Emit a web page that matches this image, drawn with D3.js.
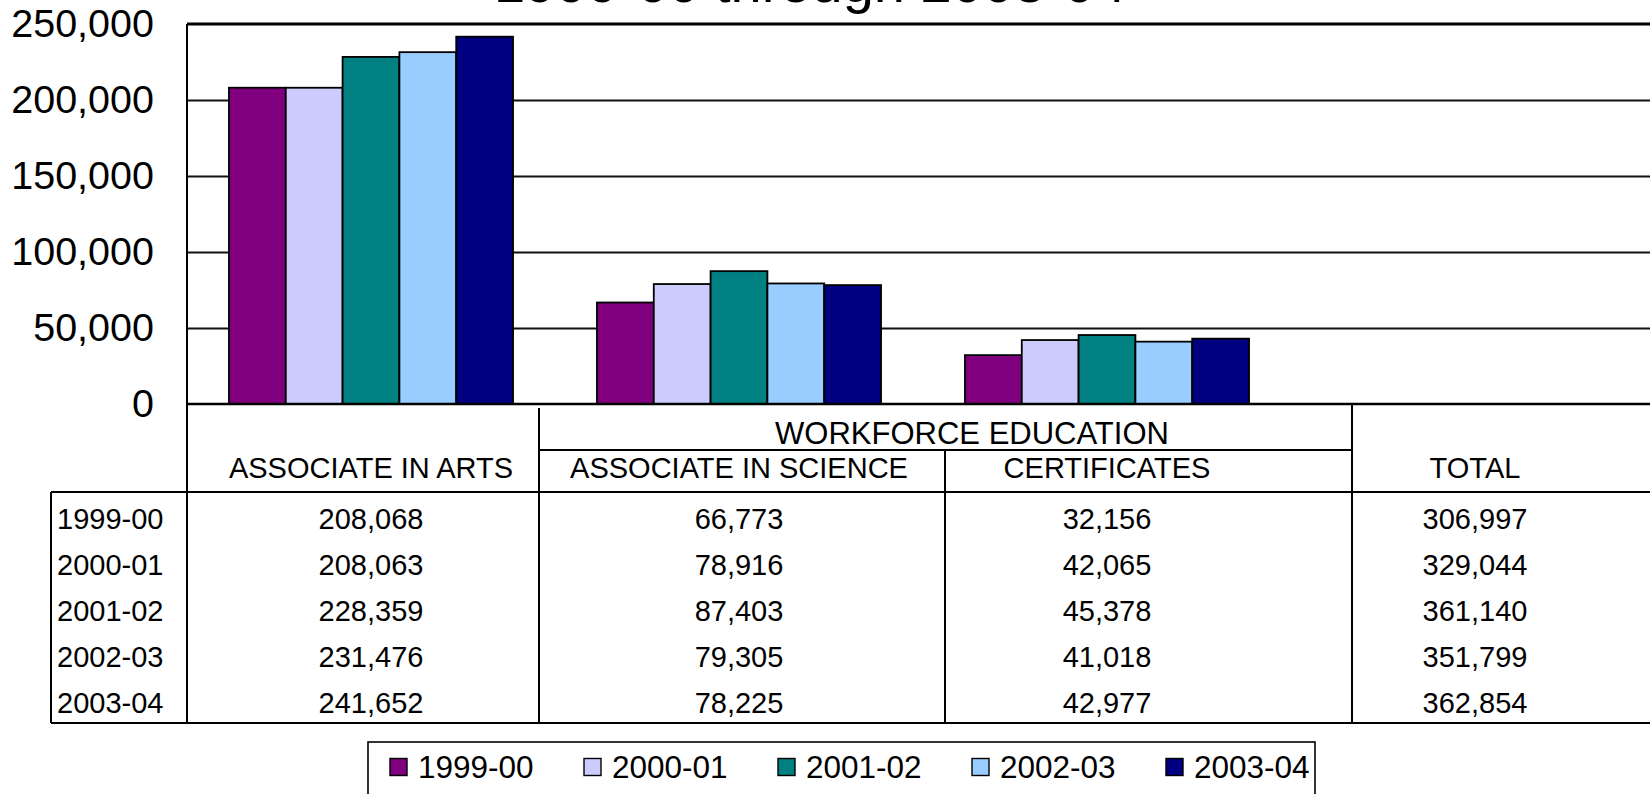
<!DOCTYPE html>
<html>
<head>
<meta charset="utf-8">
<script src="https://cdnjs.cloudflare.com/ajax/libs/d3/7.8.5/d3.min.js"></script>
<style>
  html, body { margin: 0; padding: 0; background: #fff; overflow: hidden; }
  svg { display: block; font-family: "Liberation Sans", Arial, sans-serif; }
</style>
</head>
<body>
<div id="viz"></div>
<script>
// chart data
const categories = ['ASSOCIATE IN ARTS', 'ASSOCIATE IN SCIENCE', 'CERTIFICATES', 'TOTAL'];
const years = ['1999-00', '2000-01', '2001-02', '2002-03', '2003-04'];
const artsValues = [208068, 208063, 228359, 231476, 241652];
const scienceValues = [66773, 78916, 87403, 79305, 78225];
const certificateValues = [32156, 42065, 45378, 41018, 42977];
const totalValues = [306997, 329044, 361140, 351799, 362854];
const yTicks = [0, 50000, 100000, 150000, 200000, 250000];
const colors = ['#800080', '#CCCCFF', '#008080', '#99CCFF', '#000080'];
const titleText = '1999-00 through 2003-04';
const groupLabel = 'WORKFORCE EDUCATION';

// only the three program columns are drawn as bars, total lives in the table
const plotted = [artsValues, scienceValues, certificateValues];
const tableColumns = [artsValues, scienceValues, certificateValues, totalValues];

let width = 1650, height = 794;
let margin = { top: 24, left: 187 };
let plotBottom = 404;
let plotRight = 1659;
let tableBottom = 723;

let svg = d3.select('#viz')
    .append('svg')
    .attr('width', width)
    .attr('height', height);

let xScale = d3.scaleBand()
    .domain(categories)
    .range([margin.left, plotRight])
    .paddingInner(0.228)
    .paddingOuter(0.114);

let xInner = d3.scaleBand()
    .domain(years)
    .range([0, xScale.bandwidth()]);

let yScale = d3.scaleLinear()
    .domain([0, 250000])
    .range([plotBottom, margin.top]);

let color = d3.scaleOrdinal().domain(years).range(colors);

let center = (c) => xScale(c) + xScale.bandwidth() / 2;

// title, cropped at the top edge as in the source
svg.append('text')
    .attr('x', 810)
    .attr('y', 2)
    .attr('text-anchor', 'middle')
    .style('font-size', '56px')
    .text(titleText);

// gridlines
let grid = svg.append('g')
    .attr('transform', 'translate(' + margin.left + ',0)')
    .call(d3.axisLeft(yScale).tickValues(yTicks.slice(1, -1)).tickSize(-(plotRight - margin.left)).tickFormat(''));
grid.select('.domain').remove();
grid.selectAll('line').attr('stroke', '#111').attr('stroke-width', 1.8);

// y axis labels
let yGuide = svg.append('g')
    .attr('transform', 'translate(154,0)')
    .call(d3.axisLeft(yScale).tickValues(yTicks).tickSize(0).tickPadding(0).tickFormat(d3.format(',')));
yGuide.select('.domain').remove();
yGuide.selectAll('text')
    .style('font-size', '39.5px')
    .style('font-family', '"Liberation Sans", Arial, sans-serif')
    .attr('fill', '#000');

// bars
plotted.forEach((vals, ci) => {
    svg.append('g')
        .attr('transform', 'translate(' + xScale(categories[ci]) + ',0)')
        .selectAll('rect')
        .data(vals)
        .enter()
        .append('rect')
        .attr('x', (d, i) => xInner(years[i]))
        .attr('y', (d) => yScale(d))
        .attr('width', xInner.bandwidth())
        .attr('height', (d) => plotBottom - yScale(d))
        .attr('fill', (d, i) => color(years[i]))
        .attr('stroke', '#000')
        .attr('stroke-width', 1.8);
});

// plot frame: top, left, zero line
svg.append('line')
    .attr('x1', margin.left).attr('x2', width)
    .attr('y1', margin.top).attr('y2', margin.top)
    .attr('stroke', '#000').attr('stroke-width', 3);
svg.append('line')
    .attr('x1', margin.left).attr('x2', width)
    .attr('y1', plotBottom).attr('y2', plotBottom)
    .attr('stroke', '#000').attr('stroke-width', 2.6);
svg.append('line')
    .attr('x1', margin.left).attr('x2', margin.left)
    .attr('y1', margin.top).attr('y2', tableBottom)
    .attr('stroke', '#000').attr('stroke-width', 2);

// data table lines
let tableLines = svg.append('g').attr('stroke', '#000').attr('stroke-width', 2);
tableLines.append('line').attr('x1', 539).attr('x2', 539).attr('y1', 408).attr('y2', tableBottom);
tableLines.append('line').attr('x1', 945).attr('x2', 945).attr('y1', 450).attr('y2', tableBottom);
tableLines.append('line').attr('x1', 1352).attr('x2', 1352).attr('y1', plotBottom).attr('y2', tableBottom);
tableLines.append('line').attr('x1', 539).attr('x2', 1352).attr('y1', 450).attr('y2', 450);
tableLines.append('line').attr('x1', 51).attr('x2', width).attr('y1', 492).attr('y2', 492);
tableLines.append('line').attr('x1', 51).attr('x2', width).attr('y1', tableBottom).attr('y2', tableBottom);
tableLines.append('line').attr('x1', 51).attr('x2', 51).attr('y1', 492).attr('y2', tableBottom);

// header texts
svg.append('text')
    .attr('x', 972)
    .attr('y', 433)
    .attr('text-anchor', 'middle')
    .attr('dominant-baseline', 'central')
    .style('font-size', '31px')
    .text(groupLabel);

svg.selectAll('.cat-label')
    .data(categories)
    .enter()
    .append('text')
    .attr('class', 'cat-label')
    .attr('x', (d) => center(d))
    .attr('y', 468)
    .attr('text-anchor', 'middle')
    .attr('dominant-baseline', 'central')
    .style('font-size', '29px')
    .text((d) => d);

// table rows
let rowScale = d3.scaleBand()
    .domain(years)
    .range([496, 726]);

svg.selectAll('.row-label')
    .data(years)
    .enter()
    .append('text')
    .attr('class', 'row-label')
    .attr('x', 57)
    .attr('y', (d) => rowScale(d) + rowScale.bandwidth() / 2)
    .attr('dominant-baseline', 'central')
    .style('font-size', '29px')
    .text((d) => d);

tableColumns.forEach((vals, ci) => {
    svg.append('g')
        .selectAll('text')
        .data(vals)
        .enter()
        .append('text')
        .attr('x', center(categories[ci]))
        .attr('y', (d, i) => rowScale(years[i]) + rowScale.bandwidth() / 2)
        .attr('text-anchor', 'middle')
        .attr('dominant-baseline', 'central')
        .style('font-size', '29px')
        .text((d) => d3.format(',')(d));
});

// legend
let legendX = d3.scaleBand()
    .domain(years)
    .range([390, 1360]);

svg.append('rect')
    .attr('x', 368).attr('y', 742)
    .attr('width', 947).attr('height', 60)
    .attr('fill', '#fff')
    .attr('stroke', '#000')
    .attr('stroke-width', 1.6);

let legendItems = svg.selectAll('.legend-item')
    .data(years)
    .enter()
    .append('g')
    .attr('class', 'legend-item')
    .attr('transform', (d) => 'translate(' + legendX(d) + ',767)');

legendItems.append('rect')
    .attr('x', 0).attr('y', -8.5)
    .attr('width', 17).attr('height', 17)
    .attr('fill', (d) => color(d))
    .attr('stroke', '#000')
    .attr('stroke-width', 1.4);

legendItems.append('text')
    .attr('x', 28)
    .attr('dominant-baseline', 'central')
    .style('font-size', '31.5px')
    .text((d) => d);
</script>
</body>
</html>
